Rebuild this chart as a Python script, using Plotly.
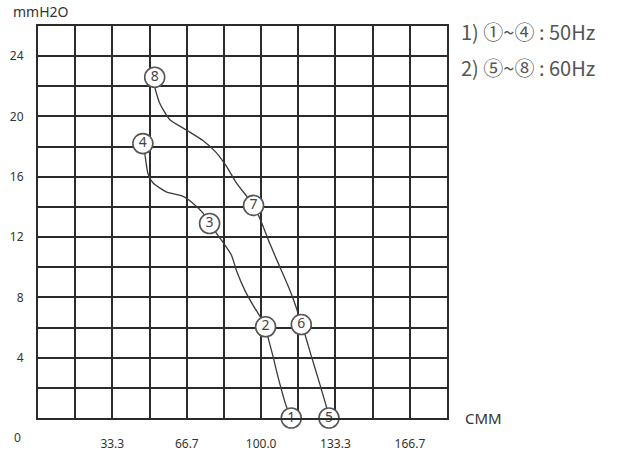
import plotly.graph_objects as go

# 50 Hz curve (points 4 -> 3 -> 2 -> 1)
hz50_x = [47.0, 47.8, 49.3, 51.5, 57.5, 65.0, 69.4, 73.9, 76.9, 82.2, 86.7, 88.9,
          92.6, 97.1, 100.1, 102.0, 103.0, 105.3, 107.5, 111.3, 113.5]
hz50_y = [18.2, 17.6, 16.2, 15.6, 15.0, 14.7, 14.25, 13.6, 12.9, 11.8, 10.8, 9.8,
          8.5, 7.3, 6.6, 6.05, 5.4, 4.1, 2.76, 0.77, 0.0]
# 60 Hz curve (points 8 -> 7 -> 6 -> 5)
hz60_x = [52.3, 52.3, 54.5, 59.0, 66.5, 73.9, 79.9, 84.4, 88.9, 94.1, 96.6, 100.1,
          103.8, 108.3, 112.8, 115.8, 118.0, 119.5, 122.5, 126.2, 129.2, 130.4]
hz60_y = [22.6, 22.0, 20.9, 19.8, 19.1, 18.4, 17.6, 16.7, 15.6, 14.6, 14.1, 13.0,
          11.6, 10.05, 8.5, 7.3, 6.2, 5.6, 4.1, 2.3, 0.77, 0.0]

# numbered measuring points
pt_labels = ["1", "2", "3", "4", "5", "6", "7", "8"]
pt_x = [113.5, 102.0, 76.9, 47.0, 130.4, 118.0, 96.6, 52.3]
pt_y = [0.0, 6.05, 12.9, 18.2, 0.0, 6.2, 14.1, 22.6]

x_grid = [0, 16.67, 33.3, 50.0, 66.7, 83.3, 100.0, 116.7, 133.3, 150.0, 166.7, 183.3]
x_text = ["", "", "33.3", "", "66.7", "", "100.0", "", "133.3", "", "166.7", ""]
y_grid = [0, 2, 4, 6, 8, 10, 12, 14, 16, 18, 20, 22, 24, 26]
y_text = ["", "", "4", "", "8", "", "12", "", "16", "", "20", "", "24", ""]

legend_lines = ["1) ①~④ : 50Hz", "2) ⑤~⑧ : 60Hz"]

line_col = "#3a3a3a"
grid_col = "#2b2b2b"

fig = go.Figure()
fig.add_trace(go.Scatter(x=hz50_x, y=hz50_y, mode="lines", line=dict(color=line_col, width=1.3, shape="spline", smoothing=0.6),
                         hoverinfo="skip", showlegend=False))
fig.add_trace(go.Scatter(x=hz60_x, y=hz60_y, mode="lines", line=dict(color=line_col, width=1.3, shape="spline", smoothing=0.6),
                         hoverinfo="skip", showlegend=False))
fig.add_trace(go.Scatter(x=pt_x, y=pt_y, mode="markers+text", text=pt_labels, textposition="middle center",
                         textfont=dict(family="Noto Sans", size=14, color="#444"),
                         marker=dict(symbol="circle", size=20, color="white", line=dict(color="#555", width=1.6)),
                         cliponaxis=False, showlegend=False))

axis_common = dict(showgrid=True, gridcolor=grid_col, gridwidth=2, zeroline=False,
                   showline=True, mirror=True, linecolor=grid_col, linewidth=2, automargin=False,
                   ticks="", tickfont=dict(family="Noto Sans", size=12, color="#333"))

fig.update_xaxes(range=[0, 183.3], tickmode="array", tickvals=x_grid, ticktext=x_text,
                 ticklabelstandoff=14, **axis_common)
fig.update_yaxes(range=[0, 26], tickmode="array", tickvals=y_grid, ticktext=y_text,
                 ticklabelstandoff=10, **axis_common)

fig.add_annotation(text="mmH2O", xref="paper", yref="paper", x=-0.065, y=1.0, xanchor="left", yanchor="bottom",
                   yshift=3, showarrow=False, font=dict(family="Noto Sans", size=14, color="#333"))
fig.add_annotation(text="CMM", xref="paper", yref="paper", x=1.04, y=0.0, xanchor="left", yanchor="middle",
                   showarrow=False, font=dict(family="Noto Sans", size=15, color="#333"))
fig.add_annotation(text="0", xref="paper", yref="paper", x=-0.036, y=-0.05, xanchor="right", yanchor="middle",
                   showarrow=False, font=dict(family="Noto Sans", size=12, color="#333"))
for i, t in enumerate(legend_lines):
    fig.add_annotation(text=t, xref="paper", yref="paper", x=1.03, y=0.985 - i * 0.092, xanchor="left", yanchor="middle",
                       showarrow=False, font=dict(family="Noto Sans CJK KR", size=20, color="#555"))

fig.update_layout(width=617, height=452, margin=dict(l=38, r=170, t=26, b=34),
                  plot_bgcolor="white", paper_bgcolor="white")

fig.write_html("out.html", config={"displayModeBar": False},
               post_script="document.body.style.margin='0';")
